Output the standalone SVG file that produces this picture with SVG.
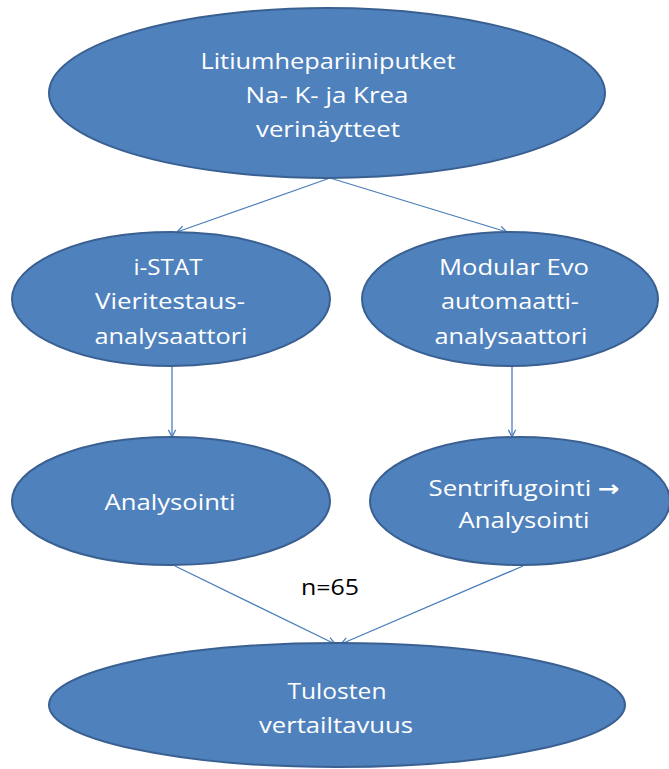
<svg xmlns="http://www.w3.org/2000/svg" width="669" height="769" viewBox="0 0 669 769">
<style>
.n{fill:#4F81BD;stroke:#3A6091;stroke-width:2}
.t{fill:#fff;font-family:"Open Sans","Liberation Sans",Arial,sans-serif;font-size:22px;text-anchor:middle}
.ar{font-family:"DejaVu Sans",sans-serif;font-weight:bold;font-size:22px}
.c{stroke:#4A7EBB;stroke-width:1.3;fill:none;marker-end:url(#a)}
.l{fill:#000;font-family:"Open Sans","Liberation Sans",Arial,sans-serif;font-size:21px;text-anchor:middle}
</style>
<defs>
<marker id="a" viewBox="0 0 10 10" refX="9" refY="5" markerWidth="9" markerHeight="9" markerUnits="userSpaceOnUse" orient="auto">
<path d="M1,1 L9,5 L1,9" fill="none" stroke="#4A7EBB" stroke-width="1.4"/>
</marker>
</defs>
<rect width="669" height="769" fill="#fff"/>
<g id="connectors">
<line class="c" x1="330" y1="178" x2="177" y2="232"/>
<line class="c" x1="330" y1="178" x2="507" y2="232"/>
<line class="c" x1="172" y1="366" x2="172" y2="437"/>
<line class="c" x1="512" y1="366" x2="512" y2="437"/>
<line class="c" x1="175" y1="566" x2="335" y2="644"/>
<line class="c" x1="523" y1="566" x2="341" y2="644"/>
<text class="l" x="330" y="595" textLength="58" lengthAdjust="spacingAndGlyphs">n=65</text>
</g>
<g id="n1">
<ellipse class="n" cx="327" cy="93" rx="278" ry="85"/>
<text class="t" x="328" y="69" textLength="255" lengthAdjust="spacingAndGlyphs">Litiumhepariiniputket</text>
<text class="t" x="327" y="103" textLength="163" lengthAdjust="spacingAndGlyphs">Na- K-  ja Krea</text>
<text class="t" x="328" y="137" textLength="144" lengthAdjust="spacingAndGlyphs">verinäytteet</text>
</g>
<g id="n2">
<ellipse class="n" cx="171" cy="299" rx="159" ry="67"/>
<text class="t" x="168" y="275" textLength="69" lengthAdjust="spacingAndGlyphs">i-STAT</text>
<text class="t" x="170" y="309" textLength="150" lengthAdjust="spacingAndGlyphs">Vieritestaus-</text>
<text class="t" x="171" y="344" textLength="153" lengthAdjust="spacingAndGlyphs">analysaattori</text>
</g>
<g id="n3">
<ellipse class="n" cx="510" cy="299" rx="148" ry="67"/>
<text class="t" x="514" y="275" textLength="150" lengthAdjust="spacingAndGlyphs">Modular Evo</text>
<text class="t" x="510" y="309" textLength="138" lengthAdjust="spacingAndGlyphs">automaatti-</text>
<text class="t" x="511" y="344" textLength="153" lengthAdjust="spacingAndGlyphs">analysaattori</text>
</g>
<g id="n4">
<ellipse class="n" cx="171" cy="501" rx="159" ry="64"/>
<text class="t" x="170" y="510" textLength="131" lengthAdjust="spacingAndGlyphs">Analysointi</text>
</g>
<g id="n5">
<ellipse class="n" cx="520" cy="501" rx="150" ry="64"/>
<text class="t" x="524" y="496" textLength="191" lengthAdjust="spacingAndGlyphs">Sentrifugointi <tspan class="ar">→</tspan></text>
<text class="t" x="524" y="528" textLength="131" lengthAdjust="spacingAndGlyphs">Analysointi</text>
</g>
<g id="n6">
<ellipse class="n" cx="337" cy="705" rx="288" ry="62"/>
<text class="t" x="337" y="699" textLength="99" lengthAdjust="spacingAndGlyphs">Tulosten</text>
<text class="t" x="336" y="733" textLength="154" lengthAdjust="spacingAndGlyphs">vertailtavuus</text>
</g>
</svg>
